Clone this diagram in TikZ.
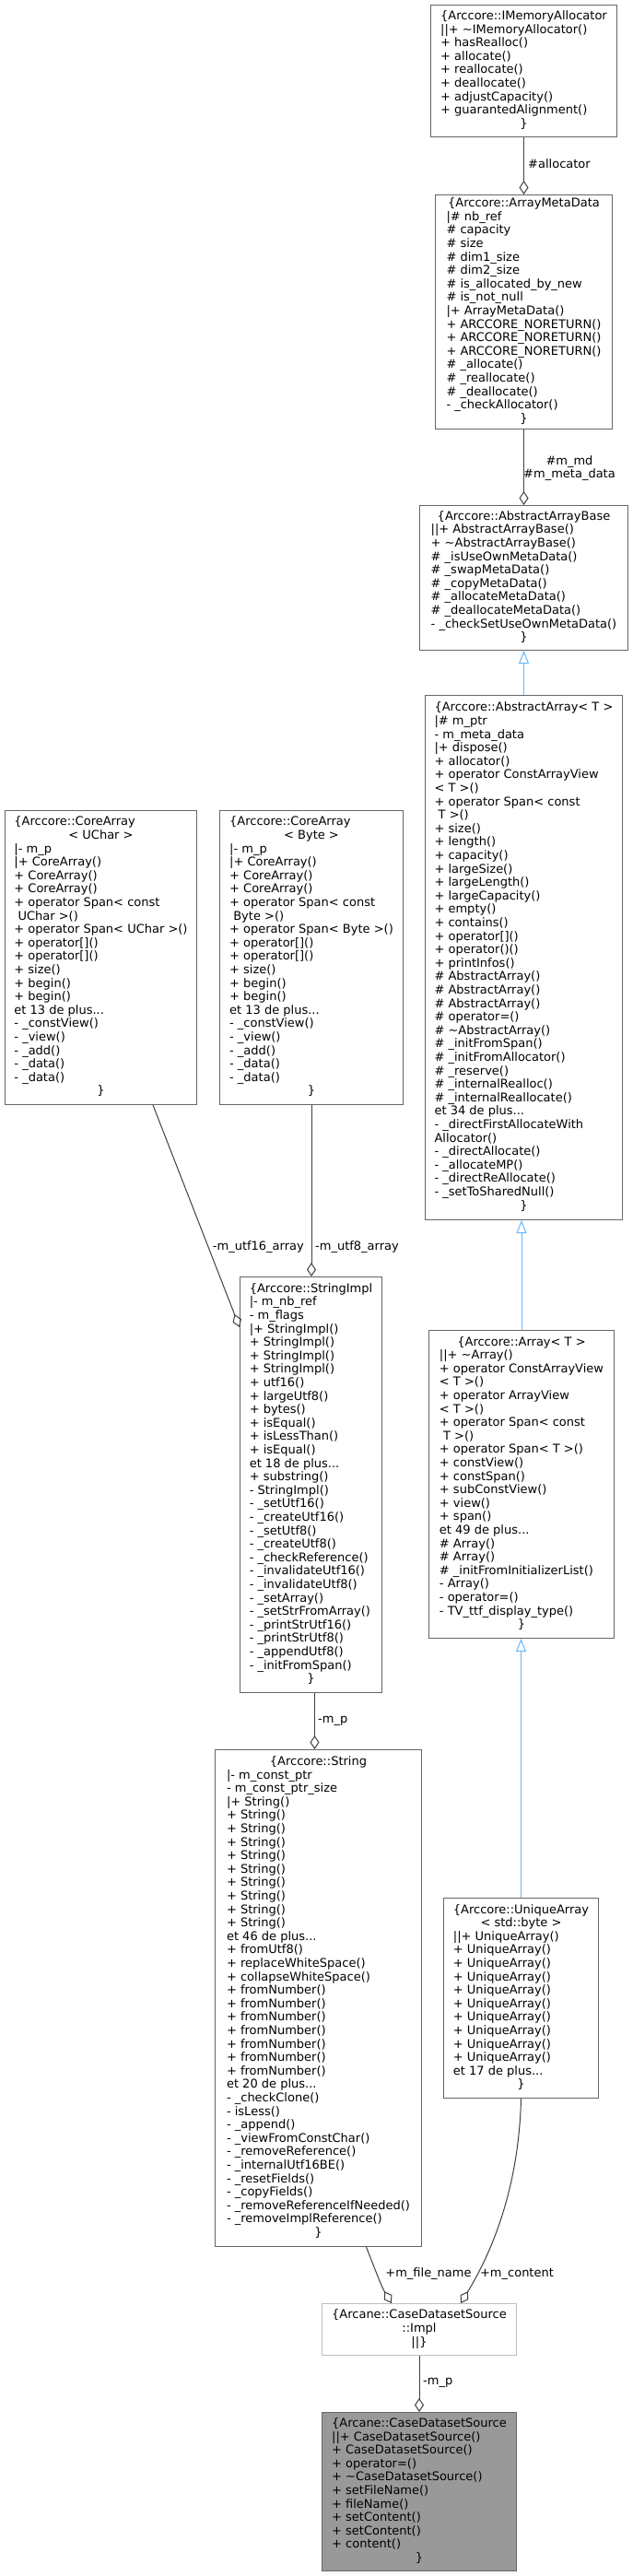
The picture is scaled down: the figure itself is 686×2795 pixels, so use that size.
\documentclass[tikz,border=0pt]{standalone}
\usepackage{fontspec}
\setmainfont{DejaVu Sans}
\usetikzlibrary{arrows.meta}

\definecolor{nodeborder}{HTML}{666666}
\definecolor{implborder}{HTML}{BFBFBF}
\definecolor{mainfill}{HTML}{999999}
\definecolor{edgecol}{HTML}{404040}
\definecolor{inherit}{HTML}{63B8FF}

\newcommand{\ctr}[1]{\multicolumn{1}{@{}c@{}}{#1}}

\tikzset{
  cls/.style={draw=nodeborder, line width=1pt, fill=white, anchor=north west,
    inner sep=0pt, font=\fontsize{13}{14.6}\selectfont},
  implcls/.style={cls, draw=implborder},
  maincls/.style={cls, fill=mainfill},
  lbl/.style={font=\fontsize{13}{14.6}\selectfont, inner sep=0pt},
  agg/.style={draw=edgecol, line width=1pt, -{Diamond[open,length=15pt,width=10pt]}},
  inh/.style={draw=inherit, line width=1pt, -{Triangle[open,length=14pt,width=11pt]}}
}

\begin{document}
\begin{tikzpicture}[x=1pt,y=-1pt]

\path[use as bounding box, fill=white] (0,0) rectangle (686,2795);

% right column: allocator and array classes
\node[cls, minimum width=202pt, minimum height=143pt] (imalloc) at (467,5) {\begin{tabular}{@{}l@{}}
\ctr{\{Arccore::IMemoryAllocator}\\
||+ \textasciitilde IMemoryAllocator()\\
+ hasRealloc()\\
+ allocate()\\
+ reallocate()\\
+ deallocate()\\
+ adjustCapacity()\\
+ guarantedAlignment()\\
\ctr{\}}
\end{tabular}};

\node[cls, minimum width=192pt, minimum height=254pt] (metadata) at (472,211) {\begin{tabular}{@{}l@{}}
\ctr{\{Arccore::ArrayMetaData}\\
|\# nb\_ref\\
\# capacity\\
\# size\\
\# dim1\_size\\
\# dim2\_size\\
\# is\_allocated\_by\_new\\
\# is\_not\_null\\
|+ ArrayMetaData()\\
+ ARCCORE\_NORETURN()\\
+ ARCCORE\_NORETURN()\\
+ ARCCORE\_NORETURN()\\
\# \_allocate()\\
\# \_reallocate()\\
\# \_deallocate()\\
- \_checkAllocator()\\
\ctr{\}}
\end{tabular}};

\node[cls, minimum width=226pt, minimum height=157pt] (arraybase) at (455,548) {\begin{tabular}{@{}l@{}}
\ctr{\{Arccore::AbstractArrayBase}\\
||+ AbstractArrayBase()\\
+ \textasciitilde AbstractArrayBase()\\
\# \_isUseOwnMetaData()\\
\# \_swapMetaData()\\
\# \_copyMetaData()\\
\# \_allocateMetaData()\\
\# \_deallocateMetaData()\\
- \_checkSetUseOwnMetaData()\\
\ctr{\}}
\end{tabular}};

\node[cls, minimum width=214pt, minimum height=569pt] (abstractarray) at (461,754) {\begin{tabular}{@{}l@{}}
\ctr{\{Arccore::AbstractArray< T >}\\
|\# m\_ptr\\
- m\_meta\_data\\
|+ dispose()\\
+ allocator()\\
+ operator ConstArrayView\\
< T >()\\
+ operator Span< const\\
\ T >()\\
+ size()\\
+ length()\\
+ capacity()\\
+ largeSize()\\
+ largeLength()\\
+ largeCapacity()\\
+ empty()\\
+ contains()\\
+ operator[]()\\
+ operator()()\\
+ printInfos()\\
\# AbstractArray()\\
\# AbstractArray()\\
\# AbstractArray()\\
\# operator=()\\
\# \textasciitilde AbstractArray()\\
\# \_initFromSpan()\\
\# \_initFromAllocator()\\
\# \_reserve()\\
\# \_internalRealloc()\\
\# \_internalReallocate()\\
et 34 de plus...\\
- \_directFirstAllocateWith\\
Allocator()\\
- \_directAllocate()\\
- \_allocateMP()\\
- \_directReAllocate()\\
- \_setToSharedNull()\\
\ctr{\}}
\end{tabular}};

\node[cls, minimum width=201pt, minimum height=334pt] (array) at (465,1443) {\begin{tabular}{@{}l@{}}
\ctr{\{Arccore::Array< T >}\\
||+ \textasciitilde Array()\\
+ operator ConstArrayView\\
< T >()\\
+ operator ArrayView\\
< T >()\\
+ operator Span< const\\
\ T >()\\
+ operator Span< T >()\\
+ constView()\\
+ constSpan()\\
+ subConstView()\\
+ view()\\
+ span()\\
et 49 de plus...\\
\# Array()\\
\# Array()\\
\# \_initFromInitializerList()\\
- Array()\\
- operator=()\\
- TV\_ttf\_display\_type()\\
\ctr{\}}
\end{tabular}};

\node[cls, minimum width=168pt, minimum height=217pt] (uniquearray) at (481,2059) {\begin{tabular}{@{}l@{}}
\ctr{\{Arccore::UniqueArray}\\
\ctr{< std::byte >}\\
||+ UniqueArray()\\
+ UniqueArray()\\
+ UniqueArray()\\
+ UniqueArray()\\
+ UniqueArray()\\
+ UniqueArray()\\
+ UniqueArray()\\
+ UniqueArray()\\
+ UniqueArray()\\
+ UniqueArray()\\
et 17 de plus...\\
\ctr{\}}
\end{tabular}};

% left column: string classes
\node[cls, minimum width=208pt, minimum height=319pt] (corearrayuchar) at (5,879) {\begin{tabular}{@{}l@{}}
\{Arccore::CoreArray\\
\ctr{< UChar >}\\
|- m\_p\\
|+ CoreArray()\\
+ CoreArray()\\
+ CoreArray()\\
+ operator Span< const\\
\ UChar >()\\
+ operator Span< UChar >()\\
+ operator[]()\\
+ operator[]()\\
+ size()\\
+ begin()\\
+ begin()\\
et 13 de plus...\\
- \_constView()\\
- \_view()\\
- \_add()\\
- \_data()\\
- \_data()\\
\ctr{\}}
\end{tabular}};

\node[cls, minimum width=199pt, minimum height=319pt] (corearraybyte) at (238,879) {\begin{tabular}{@{}l@{}}
\{Arccore::CoreArray\\
\ctr{< Byte >}\\
|- m\_p\\
|+ CoreArray()\\
+ CoreArray()\\
+ CoreArray()\\
+ operator Span< const\\
\ Byte >()\\
+ operator Span< Byte >()\\
+ operator[]()\\
+ operator[]()\\
+ size()\\
+ begin()\\
+ begin()\\
et 13 de plus...\\
- \_constView()\\
- \_view()\\
- \_add()\\
- \_data()\\
- \_data()\\
\ctr{\}}
\end{tabular}};

\node[cls, minimum width=154pt, minimum height=451pt] (stringimpl) at (260,1385) {\begin{tabular}{@{}l@{}}
\ctr{\{Arccore::StringImpl}\\
|- m\_nb\_ref\\
- m\_flags\\
|+ StringImpl()\\
+ StringImpl()\\
+ StringImpl()\\
+ StringImpl()\\
+ utf16()\\
+ largeUtf8()\\
+ bytes()\\
+ isEqual()\\
+ isLessThan()\\
+ isEqual()\\
et 18 de plus...\\
+ substring()\\
- StringImpl()\\
- \_setUtf16()\\
- \_createUtf16()\\
- \_setUtf8()\\
- \_createUtf8()\\
- \_checkReference()\\
- \_invalidateUtf16()\\
- \_invalidateUtf8()\\
- \_setArray()\\
- \_setStrFromArray()\\
- \_printStrUtf16()\\
- \_printStrUtf8()\\
- \_appendUtf8()\\
- \_initFromSpan()\\
\ctr{\}}
\end{tabular}};

\node[cls, minimum width=224pt, minimum height=539pt] (string) at (233,1898) {\begin{tabular}{@{}l@{}}
\ctr{\{Arccore::String}\\
|- m\_const\_ptr\\
- m\_const\_ptr\_size\\
|+ String()\\
+ String()\\
+ String()\\
+ String()\\
+ String()\\
+ String()\\
+ String()\\
+ String()\\
+ String()\\
+ String()\\
et 46 de plus...\\
+ fromUtf8()\\
+ replaceWhiteSpace()\\
+ collapseWhiteSpace()\\
+ fromNumber()\\
+ fromNumber()\\
+ fromNumber()\\
+ fromNumber()\\
+ fromNumber()\\
+ fromNumber()\\
+ fromNumber()\\
et 20 de plus...\\
- \_checkClone()\\
- isLess()\\
- \_append()\\
- \_viewFromConstChar()\\
- \_removeReference()\\
- \_internalUtf16BE()\\
- \_resetFields()\\
- \_copyFields()\\
- \_removeReferenceIfNeeded()\\
- \_removeImplReference()\\
\ctr{\}}
\end{tabular}};

% bottom: the documented class
\node[implcls, minimum width=211pt, minimum height=56pt] (impl) at (349,2499) {\begin{tabular}{@{}c@{}}
\{Arcane::CaseDatasetSource\\
::Impl\\
||\}
\end{tabular}};

\node[maincls, minimum width=211pt, minimum height=172pt] (source) at (349,2617) {\begin{tabular}{@{}l@{}}
\ctr{\{Arcane::CaseDatasetSource}\\
||+ CaseDatasetSource()\\
+ CaseDatasetSource()\\
+ operator=()\\
+ \textasciitilde CaseDatasetSource()\\
+ setFileName()\\
+ fileName()\\
+ setContent()\\
+ setContent()\\
+ content()\\
\ctr{\}}
\end{tabular}};

% connectors
\draw[agg] (imalloc.south) -- (metadata.north);
\node[lbl, anchor=west] (allocatorlbl) at (573,178) {\#allocator};

\draw[agg] (metadata.south) -- (arraybase.north);
\node[lbl, align=center] (mdlbl) at (618,508) {\#m\_md\\\#m\_meta\_data};

\draw[inh] (abstractarray.north) -- (arraybase.south);
\draw[inh] (array.north) -- (array.north |- abstractarray.south);
\draw[inh] (uniquearray.north) -- (uniquearray.north |- array.south);

\draw[agg] ([xshift=-48pt]corearrayuchar.south east) -- ([yshift=-55pt]stringimpl.north west);
\draw[agg] (corearraybyte.south) -- (corearraybyte.south |- stringimpl.north);
\node[lbl, anchor=east] (utfsixteenlbl) at (330,1353) {-m\_utf16\_array};
\node[lbl, anchor=west] (utfeightlbl) at (342,1353) {-m\_utf8\_array};

\draw[agg] ([xshift=4pt]stringimpl.south) -- ([xshift=-4pt]string.north);
\node[lbl, anchor=west] (implptrlbl) at (345,1867) {-m\_p};

\draw[agg] ([xshift=52pt]string.south) .. controls (407,2462) and (414,2481) .. ([xshift=-30pt]impl.north);
\draw[agg] (uniquearray.south) .. controls (563,2380) and (530,2450) .. ([xshift=45pt]impl.north);
\node[lbl] (filenamelbl) at (465,2467) {+m\_file\_name};
\node[lbl] (contentlbl) at (561,2467) {+m\_content};

\draw[agg] (impl.south) -- (source.north);
\node[lbl, anchor=west] (sourceptrlbl) at (459,2585) {-m\_p};

\end{tikzpicture}
\end{document}
